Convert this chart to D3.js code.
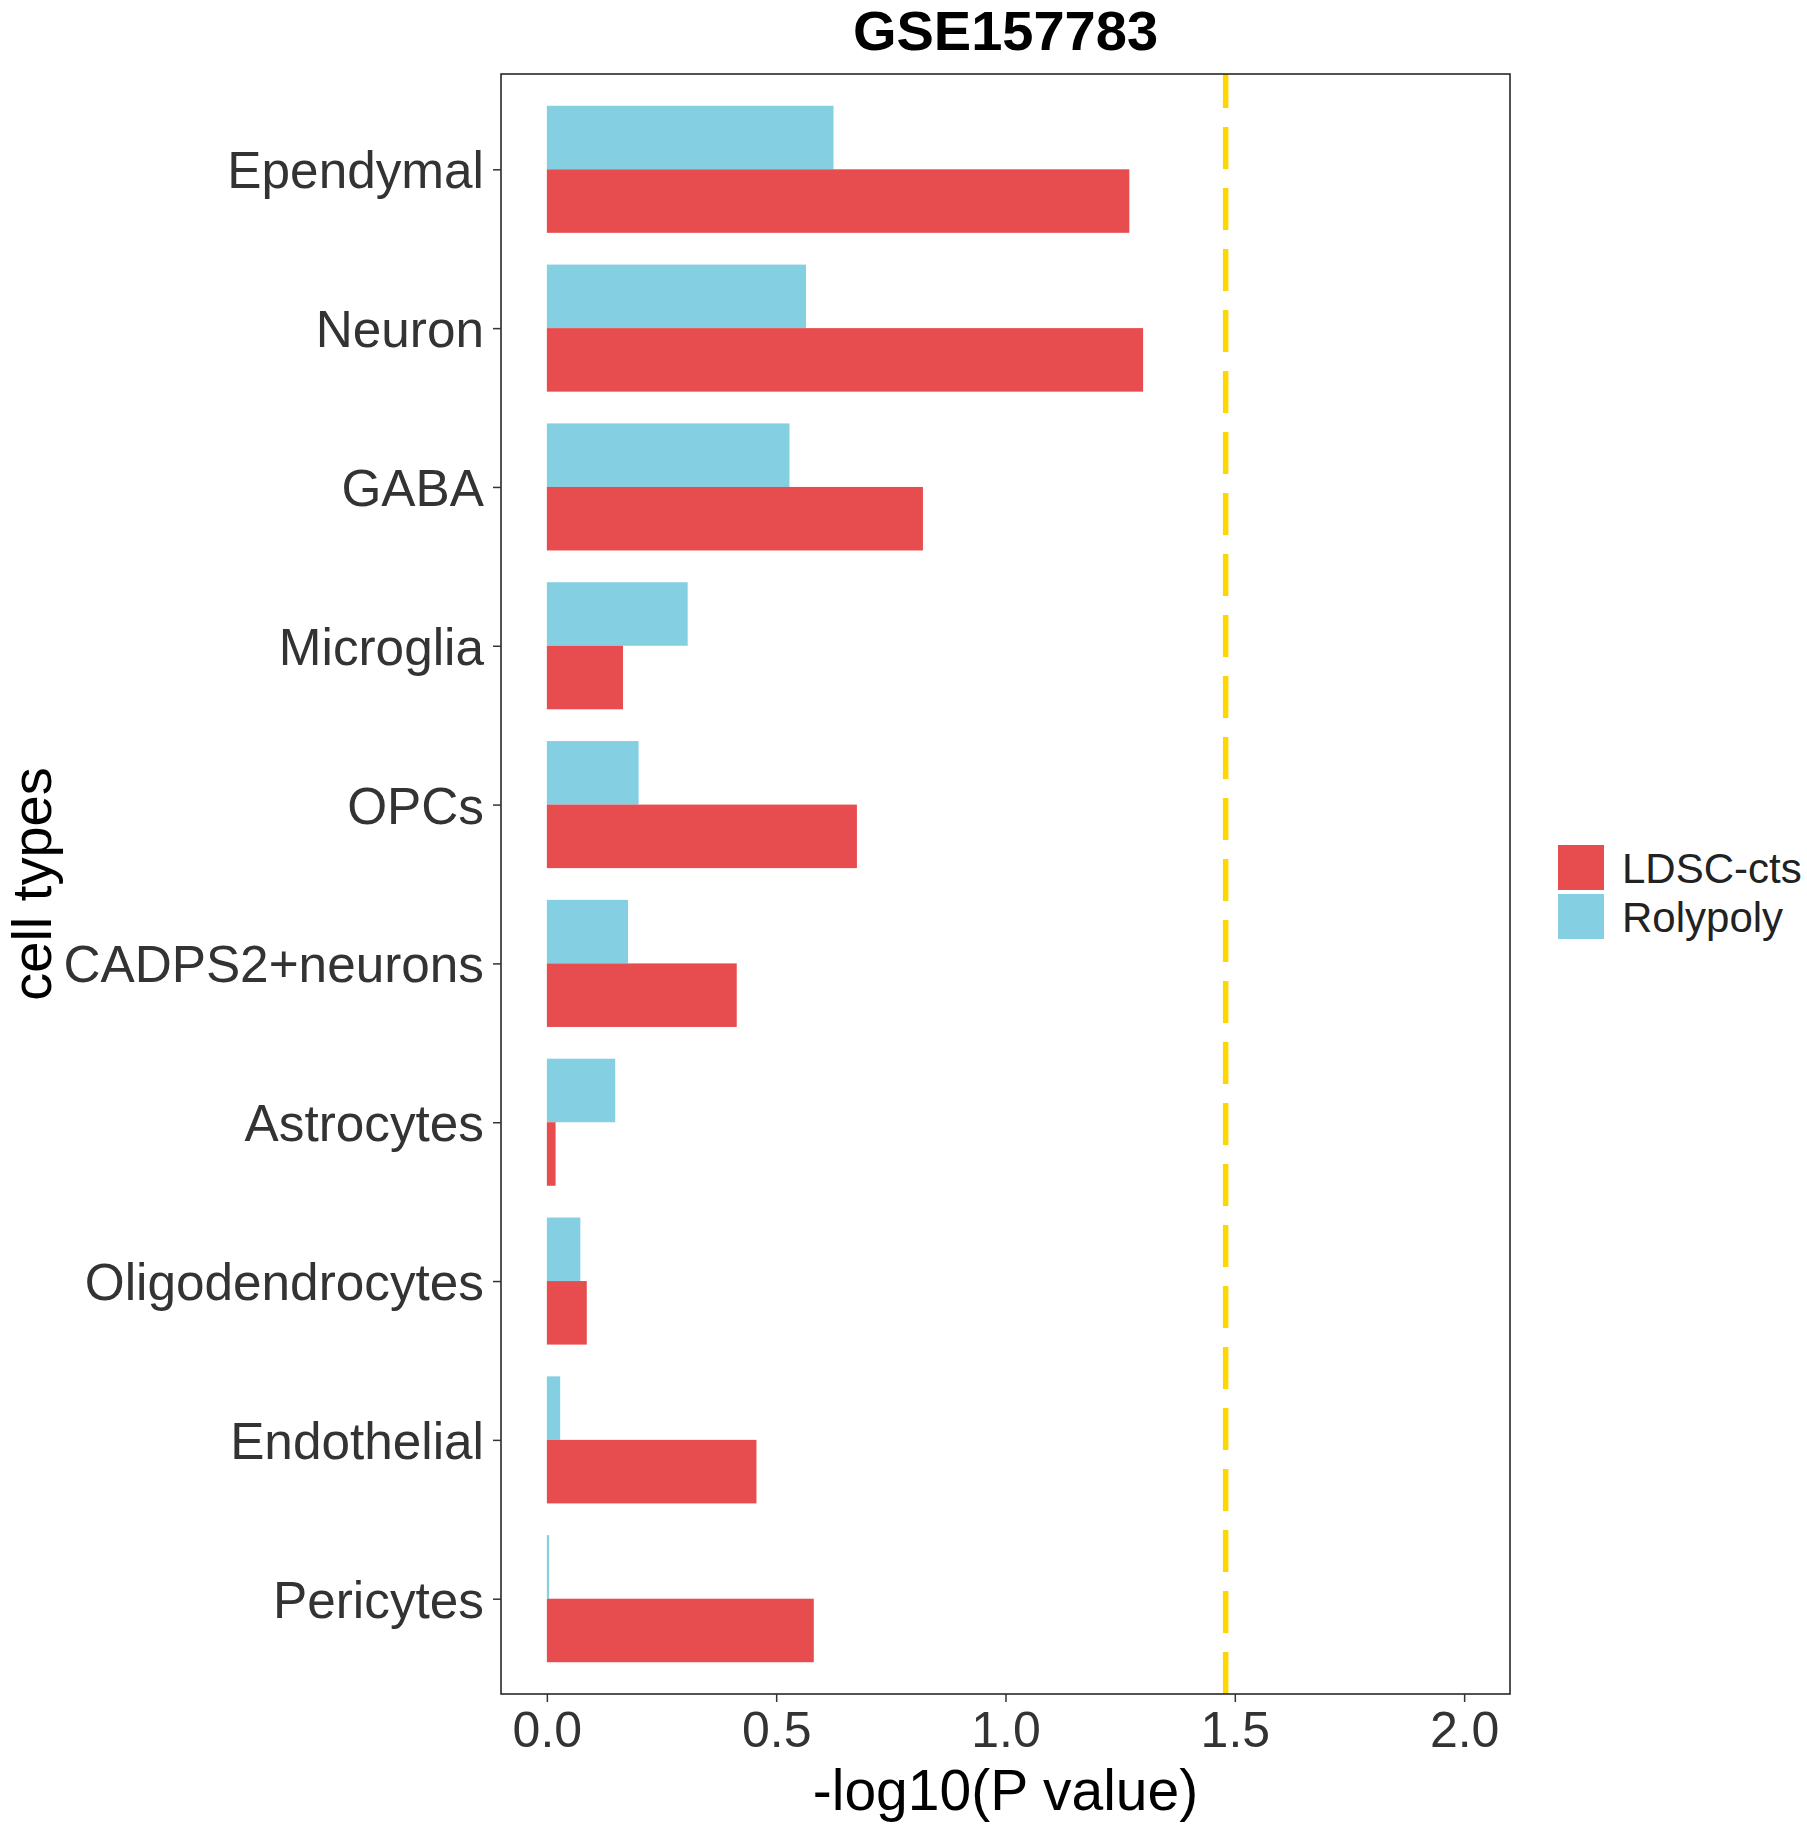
<!DOCTYPE html>
<html>
<head>
<meta charset="utf-8">
<script src="https://cdn.jsdelivr.net/npm/d3@7"></script>
<style>
  body { margin: 0; background: #fff; }
  svg { display: block; font-family: "Liberation Sans", Arial, Helvetica, sans-serif; }
</style>
</head>
<body>
<svg id="chart" width="1807" height="1824"></svg>
<script>
/*******************************************************************************************/
// Data

var cellTypes = ['Ependymal', 'Neuron', 'GABA', 'Microglia', 'OPCs', 'CADPS2+neurons',
                 'Astrocytes', 'Oligodendrocytes', 'Endothelial', 'Pericytes'];
var ldscValues = [1.27, 1.30, 0.82, 0.166, 0.676, 0.414, 0.019, 0.087, 0.457, 0.582];
var rolypolyValues = [0.625, 0.565, 0.529, 0.307, 0.200, 0.177, 0.149, 0.073, 0.029, 0.005];
var methods = ['LDSC-cts', 'Rolypoly'];
var methodColors = ['#E74C4E', '#84CFE2'];
var xTicks = [0.0, 0.5, 1.0, 1.5, 2.0];
var xLimits = [0, 2];
var threshold = 1.48;

/*******************************************************************************************/
// Scales

var panel = { left: 501, right: 1510, top: 74, bottom: 1694 };
var pad = (xLimits[1] - xLimits[0]) * 0.05;

var xScale = d3.scaleLinear()
  .domain([xLimits[0] - pad, xLimits[1] + pad])
  .range([panel.left, panel.right]);

var yScale = d3.scalePoint()
  .domain(cellTypes)
  .range([panel.top, panel.bottom])
  .padding(0.6);

var step = yScale.step();
var barH = step * 0.4;

var svg = d3.select('#chart');

/*******************************************************************************************/
// Bars (Rolypoly above, LDSC-cts below)

var rows = cellTypes.map(function(c, i){
  return { cell: c, ldsc: ldscValues[i], roly: rolypolyValues[i] };
});

var bars = svg.append('g').attr('id', 'bars');

bars.selectAll('rect.roly').data(rows).enter().append('rect')
  .attr('class', 'roly')
  .attr('x', xScale(0))
  .attr('y', function(d){ return yScale(d.cell) - barH; })
  .attr('width', function(d){ return xScale(d.roly) - xScale(0); })
  .attr('height', barH)
  .attr('fill', methodColors[1]);

bars.selectAll('rect.ldsc').data(rows).enter().append('rect')
  .attr('class', 'ldsc')
  .attr('x', xScale(0))
  .attr('y', function(d){ return yScale(d.cell); })
  .attr('width', function(d){ return xScale(d.ldsc) - xScale(0); })
  .attr('height', barH)
  .attr('fill', methodColors[0]);

// threshold line, dash pattern starts at the bottom like R does
svg.append('line')
  .attr('x1', xScale(threshold)).attr('x2', xScale(threshold))
  .attr('y1', panel.bottom).attr('y2', panel.top)
  .attr('stroke', '#FFD700')
  .attr('stroke-width', 5.5)
  .attr('stroke-dasharray', '42,19');

// panel border
svg.append('rect')
  .attr('x', panel.left).attr('y', panel.top)
  .attr('width', panel.right - panel.left).attr('height', panel.bottom - panel.top)
  .attr('fill', 'none').attr('stroke', '#1a1a1a').attr('stroke-width', 1.5);

/*******************************************************************************************/
// Axes

var xAxis = d3.axisBottom(xScale).tickValues(xTicks).tickFormat(d3.format('.1f'))
  .tickSize(8).tickPadding(10);
var gx = svg.append('g').attr('transform', 'translate(0,' + panel.bottom + ')').call(xAxis);
gx.select('.domain').remove();
gx.selectAll('line').attr('stroke', '#333').attr('stroke-width', 1.5);
gx.selectAll('text').attr('fill', '#333').style('font-size', '50px')
  .attr('dy', null).attr('y', 53);

var yAxis = d3.axisLeft(yScale).tickSize(8).tickPadding(9);
var gy = svg.append('g').attr('transform', 'translate(' + panel.left + ',0)').call(yAxis);
gy.select('.domain').remove();
gy.selectAll('line').attr('stroke', '#333').attr('stroke-width', 1.5);
gy.selectAll('text').attr('fill', '#333').style('font-size', '51.3px')
  .attr('dy', '0.36em');

/*******************************************************************************************/
// Titles

var midX = (panel.left + panel.right) / 2;
var midY = (panel.top + panel.bottom) / 2;

svg.append('text')
  .attr('x', midX).attr('y', 50)
  .attr('text-anchor', 'middle')
  .style('font-size', '56px').style('font-weight', 'bold')
  .text('GSE157783');

svg.append('text')
  .attr('x', midX).attr('y', 1810)
  .attr('text-anchor', 'middle')
  .style('font-size', '57px')
  .text('-log10(P value)');

svg.append('text')
  .attr('transform', 'translate(51,' + midY + ') rotate(-90)')
  .attr('text-anchor', 'middle')
  .style('font-size', '56px')
  .text('cell types');

/*******************************************************************************************/
// Legend

var legend = svg.append('g').attr('transform', 'translate(1558,845)');
methods.forEach(function(m, i){
  var g = legend.append('g').attr('transform', 'translate(0,' + (i * 49) + ')');
  g.append('rect').attr('width', 46).attr('height', 45).attr('fill', methodColors[i]);
  g.append('text').attr('x', 64).attr('y', 22.5).attr('dy', '0.36em')
    .attr('fill', '#222').style('font-size', '42px').text(m);
});
</script>
</body>
</html>
